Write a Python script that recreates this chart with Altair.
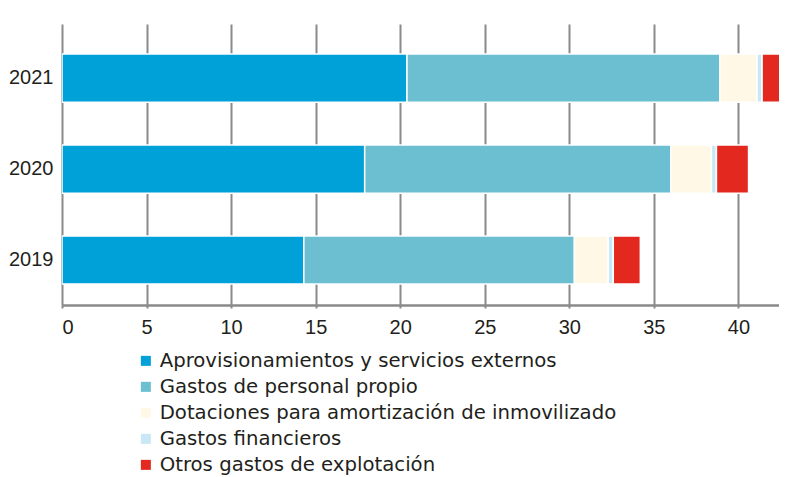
import altair as alt
import pandas as pd

years = ["2021", "2020", "2019"]
categories = [
    "Aprovisionamientos y servicios externos",
    "Gastos de personal propio",
    "Dotaciones para amortización de inmovilizado",
    "Gastos financieros",
    "Otros gastos de explotación",
]
colors = ["#00a0d8", "#6bbfd0", "#fff8e7", "#c8e8f5", "#e2281f"]

# segment values per category, in the order of years
aprov = [20.4, 17.9, 14.3]
personal = [18.5, 18.1, 16.0]
dotaciones = [2.2, 2.4, 2.0]
financieros = [0.3, 0.3, 0.3]
otros = [2.1, 1.9, 1.6]

series = [aprov, personal, dotaciones, financieros, otros]
rows = []
for ci, (cat, vals) in enumerate(zip(categories, series)):
    for yr, v in zip(years, vals):
        rows.append({"year": yr, "cat": cat, "order": ci, "value": v})
df = pd.DataFrame(rows)

chart = alt.Chart(df).mark_bar(
    stroke="white", strokeWidth=1.5, clip=True
).encode(
    x=alt.X("sum(value):Q",
            scale=alt.Scale(domain=[0, 42.4], nice=False, zero=True),
            axis=alt.Axis(values=[0, 5, 10, 15, 20, 25, 30, 35, 40], title=None,
                          grid=True, gridColor="#8a8a8a", gridWidth=2,
                          domainColor="#8a8a8a", domainWidth=2.5,
                          tickColor="#8a8a8a", tickWidth=2, tickSize=3,
                          labelFontSize=20, labelColor="#231f20",
                          labelFont="Liberation Sans", labelPadding=9)),
    y=alt.Y("year:N", sort=years,
            scale=alt.Scale(paddingInner=0.47, paddingOuter=0.28, align=0.59),
            axis=alt.Axis(title=None, ticks=False, domain=False, grid=False,
                          labelFontSize=20, labelColor="#231f20",
                          labelFont="Liberation Sans", labelPadding=9)),
    color=alt.Color("cat:N", sort=categories,
                    scale=alt.Scale(domain=categories, range=colors),
                    legend=alt.Legend(title=None, orient="none", legendX=74, legendY=327,
                                      symbolType="square", symbolSize=100,
                                      symbolStrokeWidth=0, labelFontSize=19.7,
                                      labelFont="DejaVu Sans", labelColor="#231f20",
                                      labelOffset=4, rowPadding=5, labelLimit=700)),
    order=alt.Order("order:Q", sort="ascending"),
).properties(
    width=717, height=281,
    autosize=alt.AutoSizeParams(type="none"),
    padding={"left": 54, "top": 16, "right": 0, "bottom": 172},
).configure(background="white").configure_view(strokeWidth=0, stroke="transparent")

chart.save("out.html", embed_options={"renderer": "svg", "actions": False})
